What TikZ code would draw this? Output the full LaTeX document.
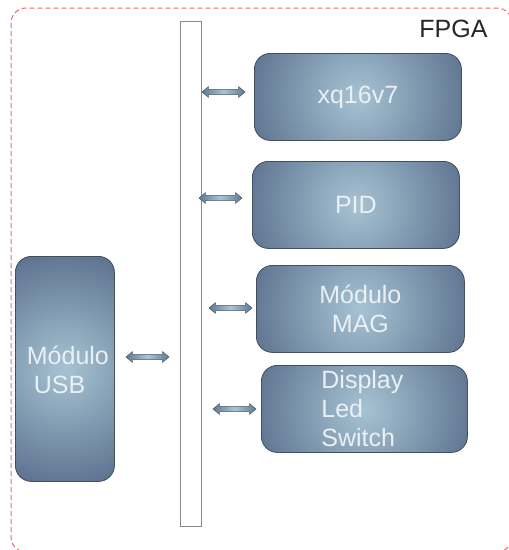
\documentclass[tikz,border=0pt]{standalone}
\usepackage{fontspec}
\setmainfont{Liberation Sans}
\usetikzlibrary{shapes.arrows}
\definecolor{boxedge}{HTML}{434F5C}
\definecolor{boxin}{HTML}{A6C3D3}
\definecolor{boxout}{HTML}{5A6E8C}
\definecolor{boxtext}{HTML}{EAF0F4}
\definecolor{arrin}{HTML}{A9C6D6}
\definecolor{arrout}{HTML}{5F7894}
\definecolor{arredge}{HTML}{4E5A66}
\definecolor{framered}{HTML}{F06A74}
\definecolor{busedge}{HTML}{8A8A8A}
\tikzset{
  module/.style={draw=boxedge, line width=0.8pt, rounded corners=16pt,
    fill=boxout, anchor=north west, inner sep=0pt,
    path picture={\shade[inner color=boxin, outer color=boxout]
      (path picture bounding box.center) circle (#1);}},
  label/.style={text=boxtext, font=\fontsize{25}{29}\selectfont},
  link/.style={shape=double arrow, draw=arredge, line width=0.5pt,
    left color=arrout, right color=arrout, middle color=arrin,
    minimum height=43pt, minimum width=10pt, inner sep=2.3pt,
    double arrow head extend=2.8pt, double arrow tip angle=80},
  bus/.style={draw=busedge, line width=0.9pt, fill=white, anchor=north west, inner sep=0pt},
}
\begin{document}
\begin{tikzpicture}[x=1pt, y=-1pt]
  \useasboundingbox (0,0) rectangle (509,550);
  \fill[white] (0,0) rectangle (509,550);
  % FPGA boundary, running past the right and bottom edges
  \begin{scope}
    \clip (0,0) rectangle (509,550);
    \draw[framered, dash pattern=on 5pt off 3pt, line width=1pt, rounded corners=15pt]
      (11,8) rectangle (512,552);
  \end{scope}
  \node[anchor=base east, font=\fontsize{25}{28}\selectfont, text=black!85] (fpga) at (491,37) {FPGA};

  % internal bus
  \node[bus, minimum width=21pt, minimum height=505pt] (bus) at (180,21) {};

  % modules
  \node[module=120pt, minimum width=207pt, minimum height=87pt] (xq) at (254,53) {};
  \node[label] at (xq.center) {xq16v7};
  \node[module=120pt, minimum width=207pt, minimum height=87pt] (pid) at (252,161) {};
  \node[label] at (pid.center) {PID};
  \node[module=120pt, minimum width=208pt, minimum height=87pt] (mag) at (256,265) {};
  \node[label, align=center] at (mag.center) {Módulo\\MAG};
  \node[module=120pt, minimum width=206pt, minimum height=87pt] (disp) at (261,365) {};
  \node[label, align=left] at ([xshift=-2pt]disp.center) {Display\\Led\\Switch};
  \node[module=125pt, minimum width=99pt, minimum height=225pt] (usb) at (15,256) {};
  \node[label, align=left] at ([xshift=3pt,yshift=-1pt]usb.center) {Módulo\\\hspace*{7pt}USB};

  % bidirectional links to the bus
  \node[link] (axq) at (223.5,92) {};
  \node[link] (apid) at (220.5,198) {};
  \node[link] (amag) at (230.5,308) {};
  \node[link] (adisp) at (234.5,409) {};
  \node[link] (ausb) at (147.5,357) {};
\end{tikzpicture}
\end{document}
